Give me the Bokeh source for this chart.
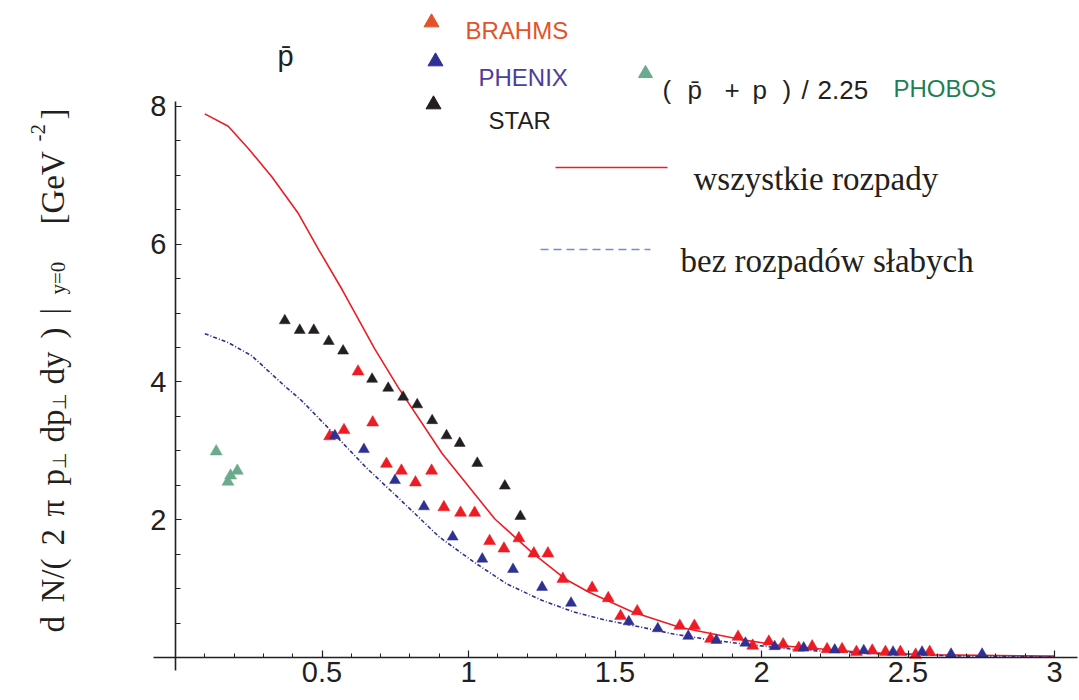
from bokeh.plotting import figure
from bokeh.models import Range1d, FixedTicker, CustomJSTickFormatter, Label
from bokeh.embed import file_html
from bokeh.resources import INLINE

# ---------------- data ----------------
curve_all_x = [0.10, 0.18, 0.25, 0.33, 0.42, 0.49, 0.57, 0.68, 0.76, 0.91, 1.09, 1.22, 1.33,
               1.41, 1.56, 1.72, 1.93, 2.07, 2.36, 2.59, 3.0]
curve_all_y = [7.89, 7.71, 7.38, 6.97, 6.44, 5.91, 5.33, 4.48, 3.92, 2.96, 2.01, 1.51, 1.14,
               0.95, 0.66, 0.44, 0.26, 0.17, 0.07, 0.04, 0.02]

curve_noweak_x = [0.10, 0.18, 0.26, 0.37, 0.43, 0.54, 0.65, 0.77, 0.90, 1.02, 1.13, 1.25, 1.36,
                  1.47, 1.59, 1.70, 1.82, 1.93, 2.04, 2.13, 2.36, 2.70, 3.0]
curve_noweak_y = [4.70, 4.57, 4.38, 3.95, 3.73, 3.25, 2.76, 2.28, 1.75, 1.38, 1.07, 0.83, 0.66,
                  0.54, 0.44, 0.34, 0.26, 0.20, 0.15, 0.11, 0.06, 0.02, 0.01]

star_x = [0.373, 0.424, 0.472, 0.523, 0.572, 0.671, 0.726, 0.777, 0.825, 0.876, 0.925, 0.970,
          1.030, 1.124, 1.177]
star_y = [4.89, 4.75, 4.75, 4.59, 4.45, 4.04, 3.91, 3.78, 3.67, 3.44, 3.22, 3.11, 2.82, 2.49, 2.05]

brahms_x = [0.526, 0.575, 0.623, 0.673, 0.720, 0.771, 0.819, 0.874, 0.916, 0.973, 1.021, 1.072,
            1.121, 1.172, 1.223, 1.271, 1.322, 1.422, 1.477, 1.519, 1.576, 1.721, 1.771, 1.826,
            1.920, 1.970, 2.025, 2.074, 2.127, 2.173, 2.224, 2.275, 2.324, 2.378, 2.423, 2.474,
            2.526, 2.574]
brahms_y = [3.21, 3.30, 4.15, 3.41, 2.81, 2.71, 2.54, 2.71, 2.18, 2.10, 2.10, 1.69, 1.58, 1.73,
            1.51, 1.51, 1.14, 1.01, 0.86, 0.60, 0.67, 0.46, 0.46, 0.27, 0.30, 0.17, 0.23, 0.19,
            0.14, 0.16, 0.12, 0.12, 0.08, 0.10, 0.08, 0.08, 0.04, 0.08]

phenix_x = [0.544, 0.643, 0.749, 0.848, 0.946, 1.047, 1.152, 1.251, 1.350, 1.547, 1.646, 1.750,
            1.846, 1.945, 2.045, 2.144, 2.250, 2.349, 2.449, 2.548, 2.647, 2.753]
phenix_y = [3.22, 3.02, 2.57, 2.19, 1.75, 1.43, 1.28, 1.02, 0.79, 0.52, 0.42, 0.31, 0.25, 0.21,
            0.16, 0.14, 0.11, 0.10, 0.08, 0.08, 0.05, 0.05]

phobos_x = [0.139, 0.179, 0.188, 0.211]
phobos_y = [2.99, 2.55, 2.64, 2.71]

x_major = [0.5, 1.0, 1.5, 2.0, 2.5, 3.0]
x_minor = [round(0.1 * i, 1) for i in range(1, 31)]
y_major = [2, 4, 6, 8]
y_minor = [0.5 * i for i in range(1, 17)]

# ---------------- layout helpers (pixel -> data) ----------------
W, H = 1079, 700
X0, SX = 175.0, 293.0
Y0, SY = 657.0, 68.9


def dx(px):
    return (px - X0) / SX


def dy(py):
    return (Y0 - py) / SY


RED = "#ED1C24"
BLUE = "#2E3192"
BLACK = "#231F20"
GREEN = "#6BAA8D"

p = figure(width=W, height=H, x_range=Range1d(dx(0), dx(W)), y_range=Range1d(dy(H), dy(0)),
           output_backend="svg", toolbar_location=None, min_border=0)
p.outline_line_color = None
p.grid.visible = False
p.background_fill_color = "white"
p.border_fill_color = "white"

for ax in (p.xaxis[0], p.yaxis[0]):
    ax.fixed_location = 0
    ax.axis_line_color = BLACK
    ax.axis_line_width = 1.6
    ax.major_tick_line_color = BLACK
    ax.minor_tick_line_color = BLACK
    ax.major_tick_line_width = 1.2
    ax.minor_tick_line_width = 1.0
    ax.major_tick_out = 0
    ax.minor_tick_out = 0
    ax.major_label_text_font = "Liberation Sans"
    ax.major_label_text_font_size = "29px"
    ax.major_label_text_color = BLACK
    ax.formatter = CustomJSTickFormatter(code="return String(tick)")

xa = p.xaxis[0]
xa.ticker = FixedTicker(ticks=x_major, minor_ticks=x_minor)
xa.bounds = (dx(153), dx(1077))
xa.major_tick_in = 7
xa.minor_tick_in = 4
xa.major_label_standoff = 4

ya = p.yaxis[0]
ya.ticker = FixedTicker(ticks=y_major, minor_ticks=y_minor)
ya.bounds = (dy(670), dy(101))
ya.major_tick_in = 6
ya.minor_tick_in = 5
ya.major_label_standoff = 9

# ---------------- curves ----------------
p.line(curve_all_x, curve_all_y, line_color=RED, line_width=1.6)
p.line(curve_noweak_x, curve_noweak_y, line_color=BLUE, line_width=1.6, line_dash="4 2 1 2")

# ---------------- data points ----------------
p.scatter(phobos_x, phobos_y, marker="triangle", size=12, fill_color=GREEN, line_color=GREEN, line_width=0.5)
p.scatter(brahms_x, brahms_y, marker="triangle", size=12, fill_color=RED, line_color=RED, line_width=0.5)
p.scatter(phenix_x, phenix_y, marker="triangle", size=11, fill_color=BLUE, line_color=BLUE, line_width=0.5)
p.scatter(star_x, star_y, marker="triangle", size=11, fill_color=BLACK, line_color=BLACK, line_width=0.5)

# ---------------- legend / annotations ----------------
LEG_BRAHMS = "#E4522B"
LEG_PHENIX = "#4A3E9E"
LEG_PHOBOS = "#1E7F52"

p.scatter([dx(431)], [dy(22)], marker="triangle", size=15, fill_color=LEG_BRAHMS, line_color=LEG_BRAHMS)
p.scatter([dx(435)], [dy(61)], marker="triangle", size=15, fill_color=BLUE, line_color=BLUE)
p.scatter([dx(433)], [dy(104)], marker="triangle", size=15, fill_color=BLACK, line_color=BLACK)
p.scatter([dx(645)], [dy(73)], marker="triangle", size=14, fill_color=GREEN, line_color=GREEN)


def lab(text, px, py, size, color=BLACK, font="Liberation Sans", angle=0, baseline="alphabetic"):
    p.add_layout(Label(x=dx(px), y=dy(py), text=text, text_font=font,
                       text_font_size=f"{size}px", text_color=color, angle=angle,
                       angle_units="deg", text_align="left", text_baseline=baseline))


lab("BRAHMS", 465, 30, 24, LEG_BRAHMS)
lab("PHENIX", 478, 77, 24, LEG_PHENIX)
lab("STAR", 488, 120, 24, BLACK)
lab("p\u0304", 277, 55, 29)

# "( p̄ + p ) / 2.25" with the original's wide spacing
for tok, px in [("(", 662), ("p\u0304", 687), ("+", 724), ("p", 752), (")", 782), ("/", 801), ("2.25", 817)]:
    lab(tok, px, 89, 26)
lab("PHOBOS", 893, 88, 24, LEG_PHOBOS)

p.line([dx(555), dx(667)], [dy(167), dy(167)], line_color=RED, line_width=1.4)
lab("wszystkie rozpady", 693, 178, 33, font="Liberation Serif")
p.line([dx(540), dx(650)], [dy(249), dy(249)], line_color="#6F8FCF", line_width=1.4, line_dash="8 5")
lab("bez rozpadów słabych", 680, 260, 33, font="Liberation Serif")

# y-axis title, rotated, built from pieces (start position measured along the axis)
SERIF = "Liberation Serif"
BX = 52
MAIN = 33
for tok, py in [("d", 632), ("N/(", 602), ("2", 545), ("\u03c0", 516), ("p", 485),
                ("dp", 442), ("dy", 384), (")", 338), ("|", 314), ("[GeV", 224), ("]", 119)]:
    lab(tok, BX, py, MAIN, font=SERIF, angle=90)
lab("\u22a5", BX + 7, 468, 19, font=SERIF, angle=90)
lab("\u22a5", BX + 7, 409, 19, font=SERIF, angle=90)
lab("y=0", BX + 5, 294, 21, font=SERIF, angle=90)
lab("-2", BX - 15, 141, 21, font=SERIF, angle=90)

open("out.html", "w").write(file_html(p, INLINE))
